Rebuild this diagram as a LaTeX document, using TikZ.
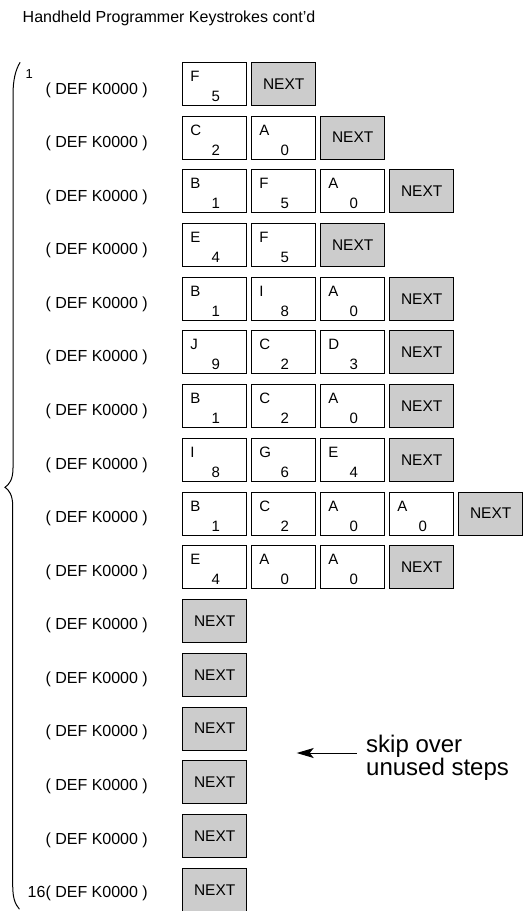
\documentclass[tikz,border=0pt]{standalone}
\usepackage{fontspec}
\setmainfont{Liberation Sans}
\usetikzlibrary{arrows.meta}
\definecolor{nextgray}{RGB}{204,204,204}
\tikzset{
  keybox/.style={draw=black, line width=1pt, fill=white, minimum width=64pt, minimum height=43pt, inner sep=0pt, outer sep=0pt, anchor=north west},
  nextbox/.style={keybox, fill=nextgray, font=\fontsize{15.5}{15.5}\selectfont},
  keyletter/.style={inner sep=0pt, anchor=base west, font=\fontsize{15}{15}\selectfont},
  keydigit/.style={inner sep=0pt, anchor=base, font=\fontsize{15}{15}\selectfont},
  deflbl/.style={inner sep=0pt, anchor=base east, font=\fontsize{16}{16}\selectfont},
  stepnum/.style={inner sep=0pt, anchor=base west, font=\fontsize{13}{13}\selectfont},
  brace/.style={line width=1pt, line cap=round},
  pointer/.style={line width=1pt, -{Stealth[length=17pt, width=10pt, inset=4pt]}},
}
\newcommand{\keyk}[4]{%
  \pgfmathsetmacro\kx{182.7+69*(#2-1)}%
  \pgfmathsetmacro\ky{62.3+53.73*(#1-1)}%
  \node[keybox] (k#1-#2) at (\kx,\ky) {};
  \node[keyletter] (k#1-#2-l) at ([xshift=7.5pt,yshift=-19pt]k#1-#2.north west) {#3};
  \node[keydigit] (k#1-#2-d) at ([xshift=33pt,yshift=-39pt]k#1-#2.north west) {#4};
}
\newcommand{\nextk}[2]{%
  \pgfmathsetmacro\kx{182.7+69*(#2-1)}%
  \pgfmathsetmacro\ky{62.3+53.73*(#1-1)}%
  \node[nextbox] (k#1-#2) at (\kx,\ky) {\raisebox{-1.5pt}{NEXT}};
}
\begin{document}
\begin{tikzpicture}[x=1pt, y=-1pt]
\useasboundingbox (0,0) rectangle (525,911);
% title
\node[inner sep=0pt, anchor=base west, font=\fontsize{16}{16}\selectfont] (title) at (22.5,22.7) {Handheld Programmer Keystrokes cont'd};
% brace
\draw[brace] (20,62.5) .. controls (15.5,70) and (13,80) .. (13,95)
  -- (13,468) .. controls (13,480) and (9,484.5) .. (5,487.3)
  .. controls (9,490) and (12.7,495) .. (12.7,506)
  -- (12.7,885) .. controls (12.7,898) and (15,904) .. (19.3,909);
% step labels
\node[stepnum] (n1) at (25.5,78) {1};
\node[deflbl] (d1) at (148,94) {( DEF K0000 )};
\foreach \r in {2,...,15}{
  \node[deflbl] (d\r) at (148,{94+53.58*(\r-1)}) {( DEF K0000 )};
}
\node[deflbl] (d16) at (148,{94+53.58*15}) {16( DEF K0000 )};
% keys
\keyk{1}{1}{F}{5} \nextk{1}{2}
\keyk{2}{1}{C}{2} \keyk{2}{2}{A}{0} \nextk{2}{3}
\keyk{3}{1}{B}{1} \keyk{3}{2}{F}{5} \keyk{3}{3}{A}{0} \nextk{3}{4}
\keyk{4}{1}{E}{4} \keyk{4}{2}{F}{5} \nextk{4}{3}
\keyk{5}{1}{B}{1} \keyk{5}{2}{I}{8} \keyk{5}{3}{A}{0} \nextk{5}{4}
\keyk{6}{1}{J}{9} \keyk{6}{2}{C}{2} \keyk{6}{3}{D}{3} \nextk{6}{4}
\keyk{7}{1}{B}{1} \keyk{7}{2}{C}{2} \keyk{7}{3}{A}{0} \nextk{7}{4}
\keyk{8}{1}{I}{8} \keyk{8}{2}{G}{6} \keyk{8}{3}{E}{4} \nextk{8}{4}
\keyk{9}{1}{B}{1} \keyk{9}{2}{C}{2} \keyk{9}{3}{A}{0} \keyk{9}{4}{A}{0} \nextk{9}{5}
\keyk{10}{1}{E}{4} \keyk{10}{2}{A}{0} \keyk{10}{3}{A}{0} \nextk{10}{4}
\foreach \r in {11,...,16}{ \nextk{\r}{1} }
% annotation
\node[inner sep=0pt, anchor=north west, align=left, font=\fontsize{24}{23.5}\selectfont] (skip) at (366,734.5) {skip over\\unused steps};
\coordinate (astart) at (356.7,753);
\coordinate (atip) at (296.7,753);
\draw[pointer] (astart) -- (atip);
\end{tikzpicture}
\end{document}
